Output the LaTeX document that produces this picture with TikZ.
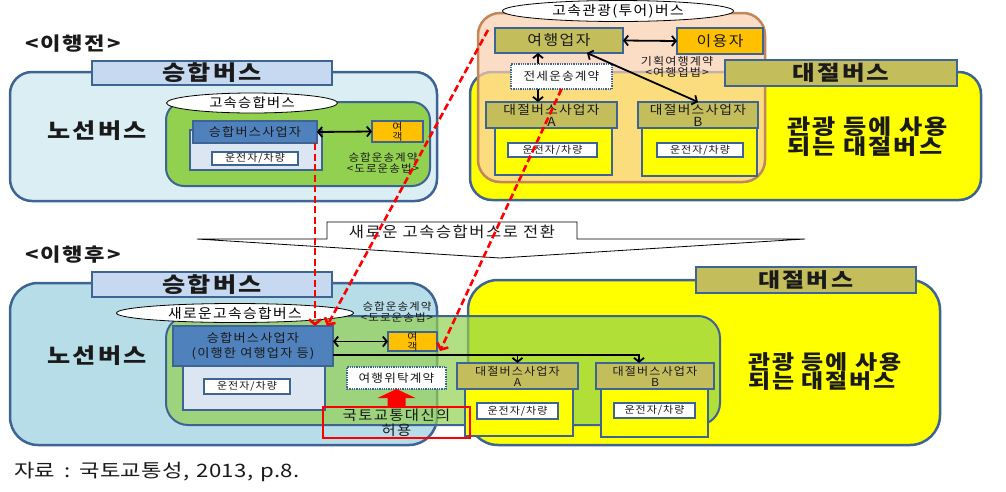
\documentclass[tikz,border=0pt]{standalone}
\usepackage{fontspec}
\setmainfont{Noto Sans CJK KR}
\newfontfamily\hb[FakeStretch=1.2,LetterSpace=10]{Noto Sans CJK KR}
\newfontfamily\hs[FakeStretch=1.1,LetterSpace=10]{Noto Sans CJK KR}
\newfontfamily\hc[FakeStretch=1.2,LetterSpace=2]{Noto Sans CJK KR}
\usetikzlibrary{arrows.meta,shapes.geometric}
\definecolor{bd}{HTML}{3E6494}
\definecolor{lblue}{HTML}{DBEEF4}
\definecolor{lblue2}{HTML}{B7DDE8}
\definecolor{hblue}{HTML}{C6D9F1}
\definecolor{grn}{HTML}{92D050}
\definecolor{mblue}{HTML}{4F81BD}
\definecolor{pblue}{HTML}{DCE6F2}
\definecolor{olive}{HTML}{C4BD5C}
\definecolor{orng}{HTML}{FFC000}
\definecolor{peach}{HTML}{FAD0B0}
\definecolor{peachbd}{HTML}{C0875A}
\definecolor{ylw}{HTML}{FFFF00}
\definecolor{txt}{HTML}{1A1A1A}
\newcommand\fsz[2]{\fontsize{#1}{#2}\selectfont}
\newcommand\bxx[7]{\node[#1, minimum width={#4-#2}, minimum height={#5-#3}] (#6) at (#2,#3) {#7};}
\begin{document}
\begin{tikzpicture}[x=1pt,y=-1pt,
 bigbox/.style={draw=bd, line width=2.5pt, inner sep=0pt, outer sep=0pt, anchor=north west},
 box/.style={draw=bd, line width=2pt, inner sep=0pt, outer sep=0pt, anchor=north west, align=center, text=txt},
 wbox/.style={box, fill=white, line width=1.2pt},
 dbox/.style={box, fill=white, line width=1.3pt, densely dotted},
 ell/.style={ellipse, draw=black, line width=0.8pt, fill=white, inner sep=0pt, outer sep=0pt},
 lab/.style={inner sep=0pt, outer sep=0pt, align=center, text=txt},
 barb/.style={line width=1.8pt, {Straight Barb[length=4pt,width=10pt]}-{Straight Barb[length=4pt,width=10pt]}},
 sbarb/.style={line width=1.8pt, -{Straight Barb[length=4pt,width=10pt]}},
 rdash/.style={draw=red, line width=2.6pt, dash pattern=on 7pt off 3.5pt, -{Straight Barb[length=5pt,width=12pt]}}
]
\useasboundingbox (0,0) rectangle (1006,491);

% ================= TOP (before) =================
\node[lab, anchor=west, font=\hb\bfseries\fsz{18.5}{20}] (befT) at (25,44) {<이행전>};

% left: 승합버스
\bxx{bigbox, fill=lblue, rounded corners=22pt}{10}{72}{437}{201}{lbT}{}
\bxx{box, fill=hblue, font=\hb\bfseries\fsz{21}{22}}{92}{61}{332}{85}{hdT}{승합버스}
\node[lab, font=\hb\bfseries\fsz{21}{22}] (nsT) at (97,131) {노선버스};
\bxx{box, fill=grn, rounded corners=18pt}{166}{102}{430}{186}{gT}{}
\node[ell, minimum width=171pt, minimum height=20pt, font=\hs\fsz{13}{14}] (eT) at (252,103) {고속승합버스};
\bxx{box, fill=pblue}{190}{130}{322}{170}{opTl}{}
\bxx{box, fill=mblue, font=\hs\fsz{12}{13}}{193}{121}{317}{143}{opTh}{승합버스사업자}
\bxx{wbox, font=\hs\fsz{10}{11}}{212}{152}{298}{165}{drT}{운전자/차량}
\bxx{box, fill=orng, font=\hs\fsz{10}{10}}{372}{121}{423}{142}{pasT}{여\\객}
\node[lab, font=\hs\fsz{10.5}{11}] (ctT) at (383,163) {승합운송계약\\<도로운송법>};
\draw[barb] (opTh.east) -- (pasT.west);

% right: 대절버스 / 고속관광버스
\bxx{bigbox, fill=ylw, rounded corners=22pt}{470}{72}{981}{200}{yT}{}
\bxx{bigbox, draw=peachbd, fill=peach, fill opacity=0.72, rounded corners=22pt}{478}{13}{765}{182}{pT}{}
\node[ell, minimum width=231pt, minimum height=21pt, font=\hs\fsz{13.5}{14}] (eT2) at (618,11) {고속관광(투어)버스};
\bxx{box, fill=olive, font=\hb\bfseries\fsz{20.5}{22}}{725}{60}{957}{86}{hdY}{대절버스}
\node[lab, anchor=west, align=left, font=\hb\bfseries\fsz{21}{20}] (useT) at (787,137) {관광 등에 사용\\되는 대절버스};

\bxx{box, fill=olive, font=\hs\fsz{14.5}{15}}{495}{28}{623}{53}{trv}{여행업자}
\bxx{box, fill=orng, font=\hs\fsz{14.5}{15}}{677}{28}{763}{54}{usr}{이용자}
\draw[barb] (trv.east) -- (usr.west);
\node[lab, font=\hs\fsz{11}{11}] (ctP) at (677,67) {기획여행계약\\<여행업법>};

\bxx{box, fill=ylw}{495}{128}{612}{175}{aTl}{}
\bxx{box, fill=olive, font=\hs\fsz{12.5}{12}}{486}{102}{617}{128}{aTh}{대절버스사업자\\A}
\bxx{wbox, font=\hs\fsz{10}{11}}{508}{143}{597}{157}{drA}{운전자/차량}
\bxx{box, fill=ylw}{642}{128}{757}{176}{bTl}{}
\bxx{box, fill=olive, font=\hs\fsz{12.5}{12}}{638}{102}{758}{128}{bTh}{대절버스사업자\\B}
\bxx{wbox, font=\hs\fsz{10}{11}}{657}{143}{743}{157}{drB}{운전자/차량}

\coordinate (xA) at (538,0);
\draw[barb] (trv.south -| xA) -- (aTh.north -| xA);
\bxx{dbox, font=\hs\fsz{11.5}{12}}{511}{64}{612}{89}{zsw}{전세운송계약}
\draw[barb] ([xshift=-36pt]trv.south east) -- (bTh.north);

% ================= banner =================
\draw[line width=0.8pt, fill=white] (197,239) -- (327,239) -- (327,222) -- (577,222) -- (577,239) -- (805,239) -- (500,258) -- cycle;
\node[lab, font=\hs\fsz{15}{16}] (bn) at (452,232) {새로운 고속승합버스로 전환};

% ================= BOTTOM (after) =================
\node[lab, anchor=west, font=\hb\bfseries\fsz{18.5}{20}] (aftT) at (25,255) {<이행후>};

\bxx{bigbox, fill=lblue2, rounded corners=28pt}{10}{283}{437}{445}{lbB}{}
\bxx{box, fill=hblue, font=\hb\bfseries\fsz{21}{22}}{92}{272}{332}{297}{hdB}{승합버스}
\node[lab, font=\hb\bfseries\fsz{21}{22}] (nsB) at (97,356) {노선버스};

\bxx{bigbox, fill=ylw, rounded corners=30pt}{468}{280}{940}{445}{yB}{}
\bxx{box, fill=olive, font=\hb\bfseries\fsz{20}{22}}{696}{267}{916}{293}{hdYB}{대절버스}
\node[lab, anchor=west, align=left, font=\hb\bfseries\fsz{20}{19}] (useB) at (748,372) {관광 등에 사용\\되는 대절버스};

\bxx{box, fill=grn, fill opacity=0.7, rounded corners=22pt}{166}{316}{720}{425}{gB}{}
\node[ell, minimum width=237pt, minimum height=19pt, font=\hs\fsz{13.5}{14}] (eB) at (235,313) {새로운고속승합버스};
\node[lab, font=\hs\fsz{10.5}{11}] (ctB) at (397,312) {승합운송계약\\<도로운송법>};

\bxx{box, fill=pblue}{183}{326}{325}{410}{opBl}{}
\bxx{box, fill=mblue, font=\hs\fsz{12}{15}}{173}{326}{333}{366}{opBh}{승합버스사업자\\(이행한 여행업자 등)}
\bxx{wbox, font=\hs\fsz{10}{11}}{204}{379}{290}{394}{drO}{운전자/차량}
\bxx{box, fill=orng, font=\hs\fsz{10}{10}}{388}{332}{437}{351}{pasB}{여\\객}
\draw[barb] (opBh.east |- pasB.west) -- (pasB.west);

\bxx{box, fill=ylw}{465}{389}{573}{436}{aBl}{}
\bxx{box, fill=olive, font=\hs\fsz{11}{11}}{457}{363}{578}{389}{aBh}{대절버스사업자\\A}
\bxx{wbox, font=\hs\fsz{10}{11}}{477}{403}{558}{419}{drAB}{운전자/차량}
\bxx{box, fill=ylw}{601}{389}{708}{437}{bBl}{}
\bxx{box, fill=olive, font=\hs\fsz{11}{11}}{596}{363}{714}{389}{bBh}{대절버스사업자\\B}
\bxx{wbox, font=\hs\fsz{10}{11}}{614}{403}{695}{418}{drBB}{운전자/차량}

\coordinate (ln) at (0,355);
\coordinate (tB) at ([xshift=43pt]bBh.north west);
\draw[sbarb] (opBh.east |- ln) -| (tB);
\draw[sbarb] (aBh.north |- ln) -- (aBh.north);

\bxx{dbox, font=\hs\fsz{11.5}{12}}{347}{367}{446}{389}{wtk}{여행위탁계약}
\bxx{box, draw=red, line width=2pt, font=\hs\fsz{14}{15}}{323}{407}{470}{438}{mlit}{국토교통대신의\\허용}
\fill[red] ([xshift=-9pt]mlit.north) -- ++(0,-9) -- ++(-10,0) -- (wtk.south) -- ([xshift=19pt,yshift=9pt]mlit.north) -- ++(-10,0) -- ([xshift=9pt]mlit.north) -- cycle;

% ================= red dashed =================
\draw[rdash] ([xshift=-2pt]opTh.south east) -- ([xshift=-2pt]opTh.south east |- opBh.north);
\draw[rdash] ([xshift=-7pt,yshift=-2pt]trv.north west) -- ([xshift=-6pt]opBh.north east);
\draw[rdash] (zsw.south) -- ([xshift=3pt]pasB.south east);

% caption
\node[lab, anchor=west, font=\hc\fsz{18.5}{19}] (cap) at (14,472) {자료\hspace{9pt}:\hspace{9pt}국토교통성,\hspace{7pt}2013,\hspace{7pt}p.8.};
\end{tikzpicture}
\end{document}
